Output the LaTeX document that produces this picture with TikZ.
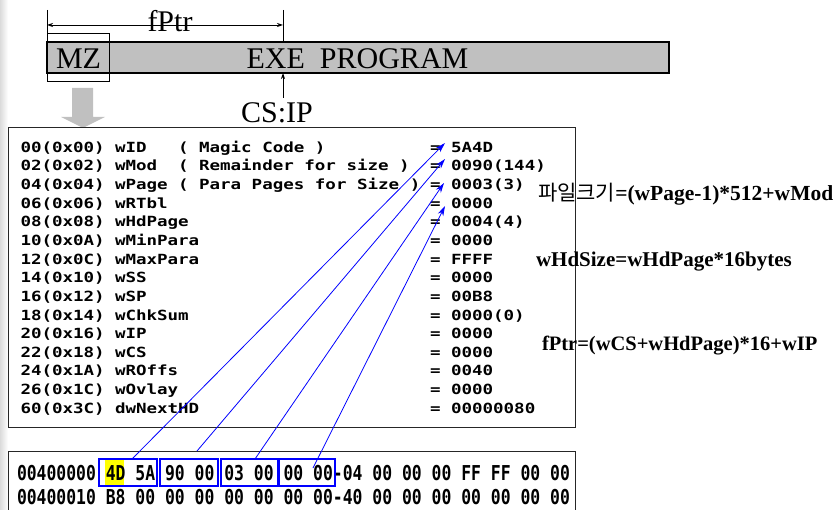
\documentclass[tikz,border=0pt]{standalone}
\usepackage{fontspec}
\setmainfont{Liberation Serif}
\newfontfamily\krfont{Noto Sans CJK KR}
\newfontfamily\tblfont[FakeStretch=1.25]{DejaVu Sans Mono Bold}
\newfontfamily\hexfont[FakeStretch=0.8]{DejaVu Sans Mono Bold}
\usetikzlibrary{arrows.meta}
\definecolor{bargray}{HTML}{C0C0C0}
\definecolor{pblue}{HTML}{0000FF}
\definecolor{hiyel}{HTML}{FFFF00}
\tikzset{
  big/.style={font=\fontsize{30}{30}\selectfont, inner sep=0pt, outer sep=0pt, anchor=base},
  tbl/.style={font=\tblfont\fontsize{14}{14}\selectfont, anchor=base west, inner sep=0pt, outer sep=0pt},
  hex/.style={font=\hexfont\fontsize{20.5}{20.5}\selectfont, anchor=base west, inner sep=0pt, outer sep=0pt},
  note/.style={anchor=base west, inner sep=0pt, outer sep=0pt},
  bluebox/.style={draw=pblue, line width=1.2pt, anchor=north west, inner sep=0pt, outer sep=0pt},
  link/.style={draw=pblue, line width=0.8pt, -{Stealth[length=10pt,width=6pt]}},
  dimline/.style={line width=0.8pt},
  frame/.style={draw=black!85, line width=1pt},
}
\begin{document}
\begin{tikzpicture}[x=1pt,y=-1pt]
\useasboundingbox (0,0) rectangle (834,510);
% slide edge shadow
\shade[left color=gray!28, right color=white] (0,0) rectangle (8,510);

% ---- top bar ----
\draw[fill=bargray, line width=1.2pt] (47,42) rectangle (669,73);
\draw[line width=0.8pt] (47,33) rectangle (109,81);
\node[big] (mz) at (78.5,69) {MZ};
\node[big] (exe) at (357.5,69) {EXE\ \ PROGRAM};

% fPtr dimension
\coordinate (fl) at (47,10);
\coordinate (fr) at (283,10);
\draw[dimline] (fl) -- (47,42);
\draw[dimline] (fr) -- (283,42);
\draw[dimline, {Stealth[length=6pt,width=4pt]}-{Stealth[length=6pt,width=4pt]}] (47,25) -- (283,25);
\node[big] (fptr) at (170,32) {fPtr};

% CS:IP
\node[big] (csip) at (277,123) {CS:IP};
\coordinate (cs0) at (283,98);
\coordinate (cs1) at (283,73);
\draw[dimline, -{Stealth[length=6pt,width=4pt]}] (cs0) -- (cs1);

% gray down arrow
\fill[bargray] (72,88) -- (93,88) -- (93,117) -- (105,117) -- (83,128) -- (61,117) -- (72,117) -- cycle;

% ---- header table ----
\draw[frame] (8,128) rectangle (575,427);
\foreach \a/\n/\c/\v [count=\i from 0] in {
  00(0x00)/wID/( Magic Code )/5A4D,
  02(0x02)/wMod/( Remainder for size )/0090(144),
  04(0x04)/wPage/( Para Pages for Size )/0003(3),
  06(0x06)/wRTbl//0000,
  08(0x08)/wHdPage//0004(4),
  10(0x0A)/wMinPara//0000,
  12(0x0C)/wMaxPara//FFFF,
  14(0x10)/wSS//0000,
  16(0x12)/wSP//00B8,
  18(0x14)/wChkSum//0000(0),
  20(0x16)/wIP//0000,
  22(0x18)/wCS//0000,
  24(0x1A)/wROffs//0040,
  26(0x1C)/wOvlay//0000,
  60(0x3C)/dwNextHD//00000080}{
  \pgfmathsetmacro{\yy}{152.3+\i*18.64}
  \node[tbl] (a\i) at (20.5,\yy) {\a};
  \node[tbl] (n\i) at (115,\yy) {\n};
  \node[tbl] (c\i) at (178,\yy) {\c};
  \node[tbl] (e\i) at (430,\yy) {=};
  \node[tbl] (v\i) at (451,\yy) {\v};
}

% ---- hex dump ----
\draw[frame] (8,512) -- (8,451) -- (575,451) -- (575,512);
\fill[hiyel] (105,459) rectangle (124,486);
\node[hex] (h1) at (17,480) {00400000 4D 5A 90 00 03 00 00 00-04 00 00 00 FF FF 00 00};
\node[hex] (h2) at (17,504) {00400010 B8 00 00 00 00 00 00 00-40 00 00 00 00 00 00 00};
\node[bluebox, minimum width=58pt, minimum height=27pt] (b1) at (99,459) {};
\node[bluebox, minimum width=58pt, minimum height=27pt] (b2) at (160,459) {};
\node[bluebox, minimum width=57pt, minimum height=27pt] (b3) at (221,459) {};
\node[bluebox, minimum width=56pt, minimum height=27pt] (b4) at (279,459) {};

% links
\coordinate (s1) at (132,459);
\coordinate (s2) at (197,451);
\coordinate (s3) at (255,459);
\coordinate (s4) at (313,468);
\coordinate (t1) at (445,143);
\coordinate (t2) at (445,159);
\coordinate (t3) at (444,183);
\coordinate (t4) at (445,206);
\draw[link] (s1) -- (t1);
\draw[link] (s2) -- (t2);
\draw[link] (s3) -- (t3);
\draw[link] (s4) -- (t4);

% ---- notes ----
\node[note, font=\bfseries\fontsize{21.5}{21.5}\selectfont] (n1) at (538,201)
  {{\mdseries\krfont\fontsize{21}{21}\selectfont 파일크기}=(wPage-1)*512+wMod};
\node[note, font=\bfseries\fontsize{21}{21}\selectfont] (n2) at (536,266) {wHdSize=wHdPage*16bytes};
\node[note, font=\bfseries\fontsize{20.5}{20.5}\selectfont] (n3) at (542,350) {fPtr=(wCS+wHdPage)*16+wIP};
\end{tikzpicture}
\end{document}
